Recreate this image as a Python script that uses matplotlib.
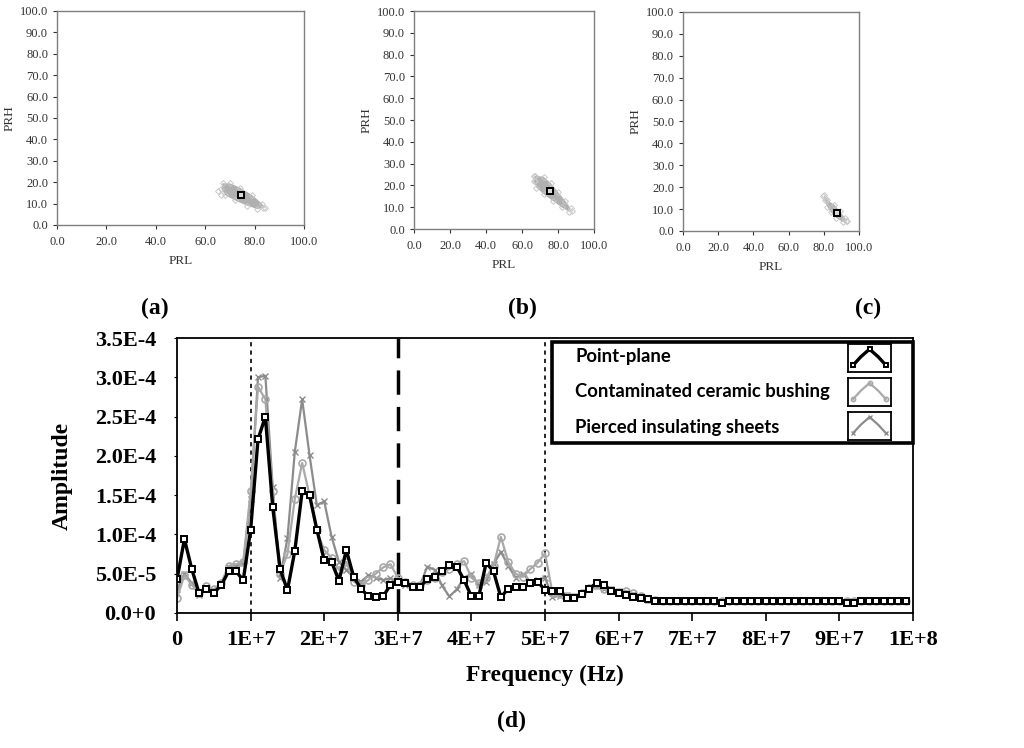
import matplotlib
matplotlib.use("Agg")
import matplotlib.pyplot as plt
import numpy as np
from matplotlib.patches import Rectangle

# ---- PRL / PRH clusters (panels a-c), outline ----
clusters = {
    'a': dict(prl=[67, 70, 74, 79, 83, 84, 81, 77, 72, 68, 66.5],
              prh=[19.5, 19.5, 17.5, 14, 10, 8, 7.5, 9, 11.5, 14, 17],
              out_prl=[65, 66.5, 83.5], out_prh=[16, 14, 8],
              centre=(74.5, 14.0)),
    'b': dict(prl=[67, 72, 76, 80, 84, 87, 86, 82, 77, 72, 68, 66.5],
              prh=[24.5, 24, 21, 17, 13, 9.5, 8, 10, 13, 16, 19, 22],
              out_prl=[66.5, 67, 87.5], out_prh=[24.5, 22, 8.5],
              centre=(75.7, 17.4)),
    'c': dict(prl=[80, 82, 86, 89, 92, 93, 91, 87, 84, 82, 80.5],
              prh=[16.5, 14, 12, 9, 6, 4.5, 4, 6, 8.5, 11, 14],
              out_prl=[79.5, 81.5, 92.5], out_prh=[16, 14.5, 4.5],
              centre=(87.7, 8.0)),
}

# ---- spectrum (panel d), amplitude in 1E-5, one point per MHz ----
point_plane = [4.3, 9.4, 5.6, 2.5, 3.0, 2.6, 3.5, 5.3, 5.3, 4.2,
               10.6, 22.1, 25.0, 13.5, 5.6, 2.9, 7.9, 15.5, 15.0, 10.6,
               6.7, 6.5, 4.1, 8.0, 4.6, 3.1, 2.1, 2.0, 2.1, 3.6,
               3.9, 3.8, 3.3, 3.3, 4.3, 4.6, 5.3, 6.1, 5.9, 4.2,
               2.1, 2.1, 6.4, 5.3, 2.0, 3.1, 3.3, 3.3, 3.8, 4.0,
               2.9, 2.8, 2.8, 1.9, 1.9, 2.4, 3.1, 3.8, 3.6, 2.8,
               2.6, 2.3, 2.0, 1.9, 1.8, 1.5, 1.5, 1.5, 1.5, 1.5,
               1.5, 1.5, 1.5, 1.5, 1.3, 1.5, 1.5, 1.5, 1.5, 1.5,
               1.5, 1.5, 1.5, 1.5, 1.5, 1.5, 1.5, 1.5, 1.5, 1.5,
               1.5, 1.3, 1.3, 1.5, 1.5, 1.5, 1.5, 1.5, 1.5, 1.5]
ceramic = [1.9, 4.8, 3.6, 2.5, 3.4, 3.0, 3.8, 6.0, 6.2, 6.5,
           15.5, 28.8, 27.2, 15.5, 5.0, 7.5, 14.5, 19.1, 15.0, 10.5,
           8.0, 7.0, 5.5, 6.5, 4.0, 3.5, 4.2, 5.0, 5.8, 6.2,
           4.5, 4.0, 3.5, 3.6, 4.2, 4.5, 5.2, 5.6, 6.2, 6.6,
           4.5, 3.8, 4.5, 6.0, 9.7, 6.5, 5.0, 4.6, 5.6, 6.4,
           7.6, 2.6, 2.4, 2.2, 2.0, 2.6, 3.2, 3.6, 3.0, 2.9,
           2.7, 2.8, 2.5, 2.1, 1.8, 1.6, 1.5, 1.5, 1.5, 1.5,
           1.5, 1.5, 1.5, 1.5, 1.5, 1.5, 1.5, 1.5, 1.5, 1.5,
           1.5, 1.5, 1.5, 1.5, 1.5, 1.5, 1.5, 1.5, 1.5, 1.5,
           1.5, 1.5, 1.5, 1.5, 1.5, 1.5, 1.5, 1.5, 1.5, 1.5]
pierced = [3.0, 5.0, 3.8, 2.3, 3.3, 2.8, 3.6, 5.8, 6.0, 6.3,
           14.5, 30.0, 30.2, 16.0, 4.5, 9.5, 20.5, 27.2, 20.1, 13.7,
           14.2, 9.7, 6.5, 5.5, 4.5, 4.0, 4.8, 4.5, 4.2, 4.4,
           4.0, 3.6, 3.3, 3.5, 5.9, 5.5, 3.5, 2.1, 3.0, 4.5,
           5.0, 3.5, 4.0, 6.2, 7.8, 6.0, 4.5, 5.0, 4.0, 4.2,
           4.5, 2.0, 2.2, 2.3, 2.1, 2.5, 3.0, 3.4, 3.1, 3.0,
           2.8, 2.6, 2.4, 2.0, 1.7, 1.6, 1.5, 1.5, 1.5, 1.5,
           1.5, 1.5, 1.5, 1.5, 1.5, 1.5, 1.5, 1.5, 1.5, 1.5,
           1.5, 1.5, 1.5, 1.5, 1.5, 1.5, 1.5, 1.5, 1.5, 1.5,
           1.5, 1.5, 1.5, 1.5, 1.5, 1.5, 1.5, 1.5, 1.5, 1.5]
series_names = ['Point-plane', 'Contaminated ceramic bushing', 'Pierced insulating sheets']

freq = np.arange(len(point_plane)) * 1e6
y_ticks = [0, 5e-5, 1e-4, 1.5e-4, 2e-4, 2.5e-4, 3e-4, 3.5e-4]
y_ticklabels = ['0.0+0', '5.0E-5', '1.0E-4', '1.5E-4', '2.0E-4', '2.5E-4', '3.0E-4', '3.5E-4']
x_ticks = np.arange(0, 11) * 1e7
x_ticklabels = ['0'] + ['%dE+7' % i for i in range(1, 10)] + ['1E+8']

SERIF = 'Liberation Serif'

fig = plt.figure(figsize=(10.24, 7.48), dpi=100)

# 三个小散点图
small_pos = {'a': [0.0557, 0.6992, 0.2412, 0.2861],
             'b': [0.4043, 0.6938, 0.1758, 0.2914],
             'c': [0.6670, 0.6912, 0.1719, 0.2928]}
label_x = {'a': 0.151, 'b': 0.510, 'c': 0.848}
for key, c in clusters.items():
    ax = fig.add_axes(small_pos[key])
    ax.fill(c['prl'], c['prh'], color='#b0b0b0', lw=0)
    ax.plot(c['prl'], c['prh'], 'D', ms=3, mfc='none', mec='#c8c8c8', mew=0.7)
    ax.plot(c['out_prl'], c['out_prh'], 'D', ms=3, mfc='none', mec='#c8c8c8', mew=0.7)
    ax.plot(*c['centre'], 's', ms=4.5, mfc='#d9d9d9', mec='black', mew=1.4)
    ax.set_xlim(0, 100)
    ax.set_ylim(0, 100)
    ax.set_xticks(np.arange(0, 101, 20))
    ax.set_yticks(np.arange(0, 101, 10))
    ax.set_xticklabels(['%.1f' % v for v in range(0, 101, 20)])
    ax.set_yticklabels(['%.1f' % v for v in range(0, 101, 10)])
    ax.tick_params(labelsize=9, colors='#333333', length=3, width=0.8)
    ax.tick_params(axis='x', pad=5)
    for lab in ax.get_xticklabels() + ax.get_yticklabels():
        lab.set_family(SERIF)
    for s in ax.spines.values():
        s.set_color('#7f7f7f')
        s.set_linewidth(1.0)
    ax.set_xlabel('PRL', fontsize=9.5, family=SERIF, color='#333333', labelpad=5)
    ax.set_ylabel('PRH', fontsize=9.5, family=SERIF, color='#333333', labelpad=3)
    fig.text(label_x[key], 0.588, '(%s)' % key, fontsize=17, family=SERIF,
             fontweight='bold', ha='center', va='center')

# 频谱图
ax = fig.add_axes([0.1729, 0.1805, 0.7187, 0.3676])
ax.axvline(1e7, color='black', lw=1.2, ls=(0, (2.5, 2.5)))
ax.axvline(5e7, color='black', lw=1.2, ls=(0, (2.5, 2.5)))
ax.axvline(3e7, color='black', lw=2.5, ls=(0, (7, 3.5)))

styles = [dict(color='black', lw=2.4, marker='s', ms=4.5, mfc='white', mec='black', mew=1.4),
          dict(color='#a9a9a9', lw=1.6, marker='o', ms=5, mfc='none', mew=1.2),
          dict(color='#8c8c8c', lw=1.6, marker='x', ms=5, mew=1.0)]
data = [point_plane, ceramic, pierced]
for i in [2, 1, 0]:
    ax.plot(freq, np.array(data[i]) * 1e-5, **styles[i])

ax.set_xlim(0, 1e8)
ax.set_ylim(0, 3.5e-4)
ax.set_xticks(x_ticks)
ax.set_xticklabels(x_ticklabels)
ax.set_yticks(y_ticks)
ax.set_yticklabels(y_ticklabels)
ax.tick_params(axis='x', length=6, width=1.2, pad=6)
ax.tick_params(axis='y', length=2, width=0.8, pad=13)
for lab in ax.get_xticklabels() + ax.get_yticklabels():
    lab.set_family(SERIF)
    lab.set_fontweight('bold')
    lab.set_fontsize(16)
for s in ax.spines.values():
    s.set_linewidth(1.3)
ax.set_xlabel('Frequency (Hz)', fontsize=17, family=SERIF, fontweight='bold', labelpad=11)
ax.set_ylabel('Amplitude', fontsize=17, family=SERIF, fontweight='bold', labelpad=16)

# 图例：文字在左，带框图标在右
ax.add_patch(Rectangle((0.5095, 0.618), 0.4905, 0.3675, transform=ax.transAxes,
                       fc='white', ec='black', lw=2.6, zorder=5, clip_on=False))
row_y = [0.931, 0.804, 0.676]
box_y = [0.876, 0.7527, 0.629]
for i, name in enumerate(series_names):
    ax.text(0.541, row_y[i], name, transform=ax.transAxes, ha='left', va='center',
            family='Lato', fontweight='bold', fontsize=13.3, zorder=6)
    icon = ax.inset_axes([0.9117, box_y[i], 0.0584, 0.1018], zorder=7)
    st = dict(styles[i])
    st['ms'] = 3
    icon.plot([0.12, 0.3, 0.5, 0.7, 0.88], [0.25, 0.55, 0.82, 0.55, 0.25],
              markevery=[0, 2, 4], **st)
    icon.set_xlim(0, 1)
    icon.set_ylim(0, 1)
    icon.set_xticks([])
    icon.set_yticks([])
    for s in icon.spines.values():
        s.set_linewidth(1.3)

fig.text(0.5, 0.035, '(d)', fontsize=17, family=SERIF, fontweight='bold',
         ha='center', va='center')

fig.savefig('out.png', dpi=100)
